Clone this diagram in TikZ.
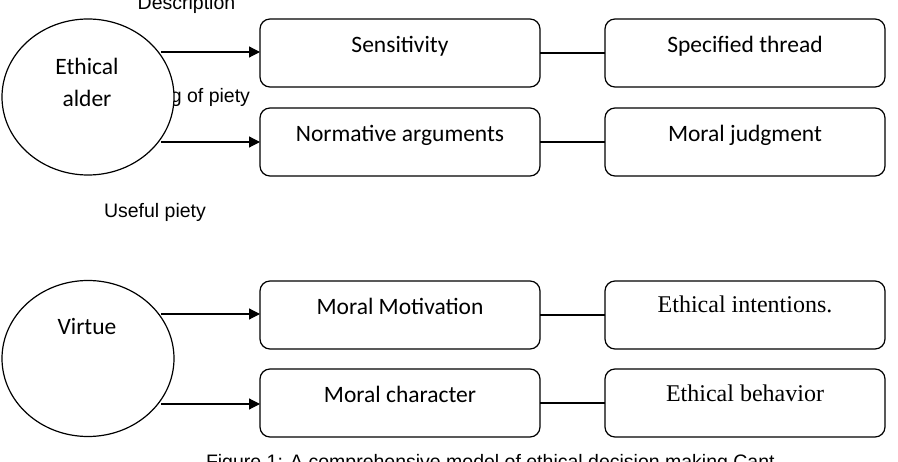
\documentclass[tikz,border=0pt]{standalone}
\usepackage{fontspec}
\setmainfont{Liberation Serif}
\newfontfamily\arialf{Liberation Sans}
\newfontfamily\calf{Carlito}
\usetikzlibrary{shapes.geometric,arrows.meta}
\begin{document}
\begin{tikzpicture}[x=1pt,y=-1pt,
  every node/.style={inner sep=0pt, outer sep=0pt},
  boxn/.style={draw, line width=1.2pt, rounded corners=10pt, minimum width=280pt, minimum height=68pt},
  ell/.style={draw, ellipse, fill=white, line width=1.2pt, minimum width=172pt, minimum height=156pt},
  cal/.style={font=\calf\fontsize{23.5}{28}\selectfont, anchor=base},
  tms/.style={font=\fontsize{24}{28}\selectfont, anchor=base},
  ari/.style={font=\arialf\fontsize{19.5}{23}\selectfont},
  arr/.style={line width=1.2pt, -{Triangle[length=11pt,width=11pt]}},
  lnk/.style={line width=1.2pt}]
\clip (0,0) rectangle (898,462);
\useasboundingbox (0,0) rectangle (898,462);
% labels
\node[ari, anchor=base] (desc) at (186.5,10) {Description};
\node[ari, anchor=base east] (piety) at (250,103) {g of piety};
\node[ari, anchor=base] (useful) at (155,218) {Useful piety};
\node[ari, anchor=base west] (cap) at (206,469) {Figure 1: A comprehensive model of ethical decision making Cant};
% ellipses
\node[ell] (e1) at (88,97) {};
\node[ell] (e2) at (88,358.5) {};
\node[cal] (e1a) at (87,75) {Ethical};
\node[cal] (e1b) at (87,107) {alder};
\node[cal] (e2a) at (87,335) {Virtue};
% boxes
\node[boxn] (b1) at (400,53) {};
\node[boxn] (b2) at (400,142) {};
\node[boxn] (b3) at (400,315) {};
\node[boxn] (b4) at (400,403) {};
\node[boxn] (c1) at (745,53) {};
\node[boxn] (c2) at (745,142) {};
\node[boxn] (c3) at (745,315) {};
\node[boxn] (c4) at (745,403) {};
% box texts
\node[cal] (t1) at (400,53) {Sensitivity};
\node[cal] (t2) at (400,141.5) {Normative arguments};
\node[cal] (t3) at (400,315) {Moral Motivation};
\node[cal] (t4) at (400,403) {Moral character};
\node[cal] (u1) at (745,53) {Specified thread};
\node[cal] (u2) at (745,141.5) {Moral judgment};
\node[tms] (u3) at (745,313) {Ethical intentions.};
\node[tms] (u4) at (745,402) {Ethical behavior};
% arrows
\coordinate (s1) at (161,52);
\coordinate (s2) at (161,142);
\coordinate (s3) at (161,314);
\coordinate (s4) at (161,404);
\draw[arr] (s1) -- (s1 -| b1.west);
\draw[arr] (s2) -- (s2 -| b2.west);
\draw[arr] (s3) -- (s3 -| b3.west);
\draw[arr] (s4) -- (s4 -| b4.west);
% links
\draw[lnk] (b1.east) -- (c1.west);
\draw[lnk] (b2.east) -- (c2.west);
\draw[lnk] (b3.east) -- (c3.west);
\draw[lnk] (b4.east) -- (c4.west);
\end{tikzpicture}
\end{document}
